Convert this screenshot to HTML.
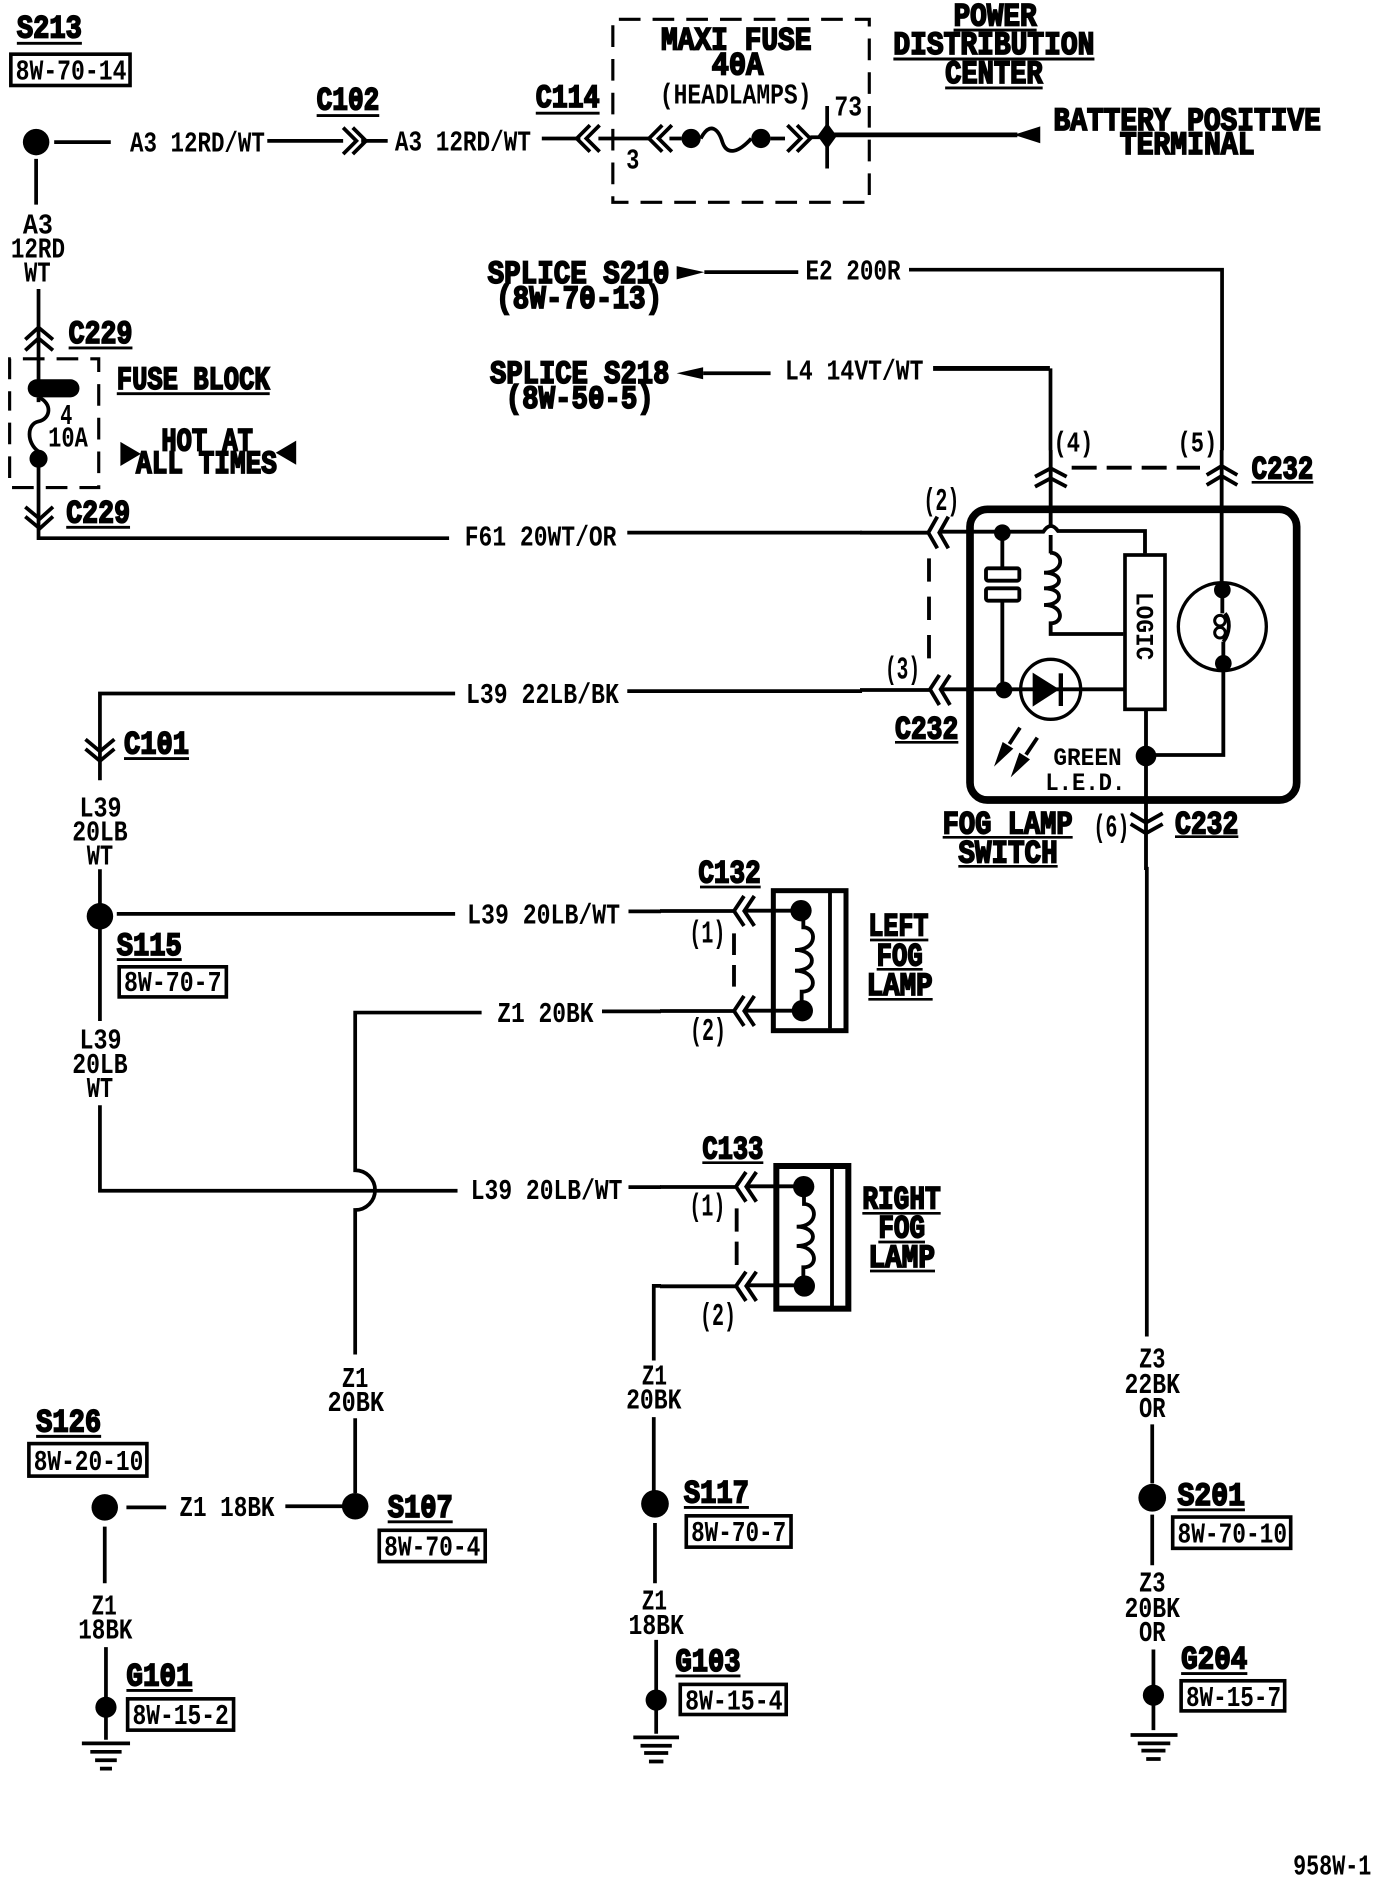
<!DOCTYPE html>
<html><head><meta charset="utf-8"><style>
html,body{margin:0;padding:0;background:#fff}
svg{display:block}
text{font-family:"Liberation Mono",monospace;font-weight:bold;fill:#000}
.l{font-size:24px}
.h{font-size:27px;stroke:#000;stroke-width:1.5}
.w{fill:none;stroke:#000;stroke-width:3.1}
.t{fill:none;stroke:#000;stroke-width:4}
.d{fill:none;stroke:#000;stroke-width:2.6;stroke-dasharray:18 10}
.u{stroke:#000;stroke-width:2.4;fill:none}
.b{fill:none;stroke:#000;stroke-width:3}
.z text{font-size:76px}
.z .p{font-size:94px}
.z .h{font-size:97px;stroke-width:5.4}
.zw{fill:none;stroke:#000;stroke-width:11.5}
</style></head><body>
<svg width="1376" height="1888" viewBox="0 0 1376 1888" xmlns="http://www.w3.org/2000/svg">
<rect width="1376" height="1888" fill="#fff"/>
<g transform="scale(1.204)">
<!-- top row -->
<text class="h" x="14" y="31" textLength="54" lengthAdjust="spacingAndGlyphs">S213</text><path class="u" d="M14 36H68"/>
<rect class="b" x="9" y="45" width="99" height="26"/><text class="l" x="13" y="66" textLength="92" lengthAdjust="spacingAndGlyphs">8W-70-14</text>
<circle cx="30" cy="118" r="11"/>
<path class="w" d="M45 118H92M222 117H285M300 117H322M450 115H482M497 115H540M556 115H566M640 115H652"/>
<path class="w" d="M285 106L296 117L285 128M293 106L304 117L293 128"/>
<text class="l" x="108" y="126" textLength="112" lengthAdjust="spacingAndGlyphs">A3 12RD/WT</text>
<text class="l" x="328" y="125" textLength="113" lengthAdjust="spacingAndGlyphs">A3 12RD/WT</text>
<text class="h" x="263" y="91" textLength="52" lengthAdjust="spacingAndGlyphs">C102</text><path class="u" d="M263 96H315"/>
<text class="h" x="445" y="89" textLength="53" lengthAdjust="spacingAndGlyphs">C114</text><path class="u" d="M445 94H498"/>
<path class="w" d="M490 104L479 115L490 126M498 104L487 115L498 126M550 104L539 115L550 126M558 104L547 115L558 126M654 104L665 115L654 126M662 104L673 115L662 126"/>
<path class="d" d="M509 95V16H722V168H509V105" stroke-dasharray="20 12"/>
<text class="h" x="549" y="41" textLength="125" lengthAdjust="spacingAndGlyphs">MAXI FUSE</text>
<text class="h" x="591" y="62" textLength="43" lengthAdjust="spacingAndGlyphs">40A</text>
<text class="l" x="548" y="86" textLength="126" lengthAdjust="spacingAndGlyphs">(HEADLAMPS)</text>
<text class="l" x="520" y="140" textLength="11" lengthAdjust="spacingAndGlyphs">3</text>
<text class="l" x="693" y="96" textLength="23" lengthAdjust="spacingAndGlyphs">73</text>
<circle cx="574" cy="115" r="8"/><circle cx="632" cy="115" r="8"/>
<path class="w" d="M582 115C590 100 597 108 600 118C604 130 614 126 624 115"/>
<path class="w" d="M673 114H687M687 88V140"/><path d="M687 102L695 113L687 124L679 113Z"/>
<path class="t" d="M687 112H845"/><path d="M842 112L864 105V119Z"/>
<text class="h" x="792" y="21" textLength="69" lengthAdjust="spacingAndGlyphs">POWER</text><path class="u" d="M792 25H861"/>
<text class="h" x="742" y="45" textLength="167" lengthAdjust="spacingAndGlyphs">DISTRIBUTION</text><path class="u" d="M742 49H909"/>
<text class="h" x="785" y="69" textLength="81" lengthAdjust="spacingAndGlyphs">CENTER</text><path class="u" d="M785 73H866"/>
<text class="h" x="875" y="108" textLength="222" lengthAdjust="spacingAndGlyphs">BATTERY POSITIVE</text>
<text class="h" x="930" y="128" textLength="112" lengthAdjust="spacingAndGlyphs">TERMINAL</text>
<!-- left col top -->
<path class="w" d="M30 132V170M32 240V320M32 330V334M32 385V447H373M521 442.4H716"/>
<text class="l" x="19" y="194" textLength="25" lengthAdjust="spacingAndGlyphs">A3</text>
<text class="l" x="9" y="214" textLength="45" lengthAdjust="spacingAndGlyphs">12RD</text>
<text class="l" x="20" y="234" textLength="22" lengthAdjust="spacingAndGlyphs">WT</text>
<path class="w" d="M21 282L32 272L44 282M21 291L32 281L44 291M21 421L33 431L44 421M21 429L33 439L44 429"/>
<text class="h" x="57" y="285" textLength="53" lengthAdjust="spacingAndGlyphs">C229</text><path class="u" d="M57 289H110"/>
<text class="h" x="55" y="434" textLength="53" lengthAdjust="spacingAndGlyphs">C229</text><path class="u" d="M55 438H108"/>
<path class="d" d="M8 315V298H82V405H8V325" stroke-dasharray="16 9"/>
<rect x="23" y="315" width="43" height="15" rx="7.5"/>
<path class="w" d="M32 330C44 335 42 348 32 350C22 352 22 368 32 375"/><circle cx="32" cy="381" r="7.5"/>
<text class="l" x="50" y="352" textLength="10" lengthAdjust="spacingAndGlyphs">4</text>
<text class="l" x="40" y="371" textLength="33" lengthAdjust="spacingAndGlyphs">10A</text>
<text class="h" x="97" y="323" textLength="127" lengthAdjust="spacingAndGlyphs">FUSE BLOCK</text><path class="u" d="M97 327H224"/>
<path d="M100 367L117 377L100 387ZM246 366V386L229 376Z"/>
<text class="h" x="134" y="374" textLength="76" lengthAdjust="spacingAndGlyphs">HOT AT</text>
<text class="h" x="113" y="393" textLength="117" lengthAdjust="spacingAndGlyphs">ALL TIMES</text>
<text class="l" x="386" y="453" textLength="126" lengthAdjust="spacingAndGlyphs">F61 20WT/OR</text>
<!-- splices -->
<text class="h" x="405" y="235" textLength="151" lengthAdjust="spacingAndGlyphs">SPLICE S210</text>
<text class="h" x="412" y="256" textLength="138" lengthAdjust="spacingAndGlyphs">(8W-70-13)</text>
<path d="M562 221L585 226L562 232Z"/><path class="w" d="M585 226H663M755 224H1015V374"/>
<text class="l" x="669" y="232" textLength="79" lengthAdjust="spacingAndGlyphs">E2 200R</text>
<text class="h" x="407" y="318" textLength="149" lengthAdjust="spacingAndGlyphs">SPLICE S218</text>
<text class="h" x="420" y="339" textLength="123" lengthAdjust="spacingAndGlyphs">(8W-50-5)</text>
<path d="M562 310L584 305V315Z"/><path class="w" d="M584 310H640"/><path class="t" d="M775 306H872"/><path class="w" d="M872.5 306V374"/>
<text class="l" x="652" y="315" textLength="115" lengthAdjust="spacingAndGlyphs">L4 14VT/WT</text>
<text class="l" x="875" y="375" textLength="33" lengthAdjust="spacingAndGlyphs">(4)</text>
<text class="l" x="978" y="375" textLength="33" lengthAdjust="spacingAndGlyphs">(5)</text>
<!-- left wiring -->
<path class="w" d="M83 648V576H378M521 574H716"/>
<text class="l" x="387" y="584" textLength="127" lengthAdjust="spacingAndGlyphs">L39 22LB/BK</text>
<path class="w" d="M71 614L83 624L95 614M71 622L83 632L95 622"/>
<text class="h" x="103" y="626" textLength="54" lengthAdjust="spacingAndGlyphs">C101</text><path class="u" d="M103 630H157"/>
<text class="l" x="66" y="678" textLength="35" lengthAdjust="spacingAndGlyphs">L39</text>
<text class="l" x="60" y="698" textLength="46" lengthAdjust="spacingAndGlyphs">20LB</text>
<text class="l" x="72" y="718" textLength="22" lengthAdjust="spacingAndGlyphs">WT</text>
<path class="w" d="M83 722V848M97 759H378M522 757H549"/><circle cx="83" cy="761" r="11"/>
<text class="l" x="388" y="767" textLength="127" lengthAdjust="spacingAndGlyphs">L39 20LB/WT</text>
<text class="h" x="97" y="793" textLength="54" lengthAdjust="spacingAndGlyphs">S115</text><path class="u" d="M97 797H151"/>
<rect class="b" x="99" y="803" width="89" height="25"/><text class="l" x="103" y="823" textLength="81" lengthAdjust="spacingAndGlyphs">8W-70-7</text>
<text class="l" x="66" y="871" textLength="35" lengthAdjust="spacingAndGlyphs">L39</text>
<text class="l" x="60" y="891" textLength="46" lengthAdjust="spacingAndGlyphs">20LB</text>
<text class="l" x="72" y="911" textLength="22" lengthAdjust="spacingAndGlyphs">WT</text>
<path class="w" d="M83 918V989H380M522 986H549M295 1125V1005A16 16 0 0 0 295 972V841H400M500 840H549"/>
<text class="l" x="413" y="849" textLength="80" lengthAdjust="spacingAndGlyphs">Z1 20BK</text>
<text class="l" x="391" y="996" textLength="126" lengthAdjust="spacingAndGlyphs">L39 20LB/WT</text>
<text class="l" x="284" y="1152" textLength="22" lengthAdjust="spacingAndGlyphs">Z1</text>
<text class="l" x="272" y="1172" textLength="47" lengthAdjust="spacingAndGlyphs">20BK</text>
<path class="w" d="M295 1178V1240M237 1251H285M105 1252H138M87 1268V1315M88 1368V1445"/>
<circle cx="295" cy="1251" r="11"/><circle cx="87" cy="1252" r="11"/>
<text class="l" x="149" y="1259" textLength="79" lengthAdjust="spacingAndGlyphs">Z1 18BK</text>
<text class="h" x="30" y="1189" textLength="54" lengthAdjust="spacingAndGlyphs">S126</text><path class="u" d="M30 1193H84"/>
<rect class="b" x="24" y="1199" width="98" height="27"/><text class="l" x="28" y="1221" textLength="91" lengthAdjust="spacingAndGlyphs">8W-20-10</text>
<text class="h" x="322" y="1260" textLength="54" lengthAdjust="spacingAndGlyphs">S107</text><path class="u" d="M322 1264H376"/>
<rect class="b" x="315" y="1271" width="88" height="26"/><text class="l" x="319" y="1292" textLength="80" lengthAdjust="spacingAndGlyphs">8W-70-4</text>
<text class="l" x="76" y="1341" textLength="21" lengthAdjust="spacingAndGlyphs">Z1</text>
<text class="l" x="65" y="1361" textLength="45" lengthAdjust="spacingAndGlyphs">18BK</text>
<circle cx="88" cy="1418" r="8.8"/>
<path class="w" d="M68 1448H108M75 1455H101M79 1462H97M83 1469H93"/>
<text class="h" x="105" y="1400" textLength="55" lengthAdjust="spacingAndGlyphs">G101</text><path class="u" d="M105 1404H160"/>
<rect class="b" x="106" y="1411" width="88" height="26"/><text class="l" x="110" y="1432" textLength="80" lengthAdjust="spacingAndGlyphs">8W-15-2</text>
<!-- middle -->
<path class="w" d="M549 1068H543V1130M543 1177V1238M544 1265V1315M545 1362V1440"/>
<text class="l" x="533" y="1150" textLength="21" lengthAdjust="spacingAndGlyphs">Z1</text>
<text class="l" x="520" y="1170" textLength="46" lengthAdjust="spacingAndGlyphs">20BK</text>
<circle cx="544" cy="1249" r="11.5"/>
<text class="h" x="568" y="1248" textLength="54" lengthAdjust="spacingAndGlyphs">S117</text><path class="u" d="M568 1252H622"/>
<rect class="b" x="570" y="1259" width="87" height="26"/><text class="l" x="574" y="1280" textLength="79" lengthAdjust="spacingAndGlyphs">8W-70-7</text>
<text class="l" x="533" y="1337" textLength="21" lengthAdjust="spacingAndGlyphs">Z1</text>
<text class="l" x="522" y="1357" textLength="46" lengthAdjust="spacingAndGlyphs">18BK</text>
<circle cx="545" cy="1412" r="8.8"/>
<path class="w" d="M526 1443H564M532 1450H558M535 1456H555M539 1463H551"/>
<text class="h" x="561" y="1388" textLength="54" lengthAdjust="spacingAndGlyphs">G103</text><path class="u" d="M561 1392H615"/>
<rect class="b" x="565" y="1399" width="88" height="25"/><text class="l" x="569" y="1420" textLength="81" lengthAdjust="spacingAndGlyphs">8W-15-4</text>
<!-- right -->
<path class="w" d="M952.5 720V1110M957 1183V1232M957 1258V1300M958 1370V1437"/>
<text class="l" x="946" y="1136" textLength="22" lengthAdjust="spacingAndGlyphs">Z3</text>
<text class="l" x="934" y="1157" textLength="46" lengthAdjust="spacingAndGlyphs">22BK</text>
<text class="l" x="946" y="1177" textLength="22" lengthAdjust="spacingAndGlyphs">OR</text>
<circle cx="957" cy="1244" r="11.5"/>
<text class="h" x="978" y="1250" textLength="56" lengthAdjust="spacingAndGlyphs">S201</text><path class="u" d="M978 1254H1034"/>
<rect class="b" x="974" y="1260" width="98" height="26"/><text class="l" x="978" y="1281" textLength="91" lengthAdjust="spacingAndGlyphs">8W-70-10</text>
<text class="l" x="946" y="1322" textLength="22" lengthAdjust="spacingAndGlyphs">Z3</text>
<text class="l" x="934" y="1343" textLength="46" lengthAdjust="spacingAndGlyphs">20BK</text>
<text class="l" x="946" y="1363" textLength="22" lengthAdjust="spacingAndGlyphs">OR</text>
<circle cx="958" cy="1408" r="8.8"/>
<path class="w" d="M939 1441H978M945 1448H972M948 1454H968M952 1461H964"/>
<text class="h" x="981" y="1386" textLength="55" lengthAdjust="spacingAndGlyphs">G204</text><path class="u" d="M981 1390H1036"/>
<rect class="b" x="981" y="1396" width="86" height="25"/><text class="l" x="985" y="1417" textLength="79" lengthAdjust="spacingAndGlyphs">8W-15-7</text>
<text class="l" x="1074" y="1557" textLength="65" lengthAdjust="spacingAndGlyphs">958W-1</text>
</g>
<!-- switch detail -->
<g class="z" transform="translate(860 450) scale(.33333)">
<rect x="330" y="178" width="980" height="872" rx="52" fill="none" stroke="#000" stroke-width="23"/>
<path class="zw" d="M0 248H205M240 245H550Q572 212 594 243H855V310"/>
<path class="zw" d="M232 200L205 248L232 295M265 200L238 248L265 295"/>
<path class="zw" d="M207 325V645" stroke-dasharray="70 45"/>
<path class="zw" d="M572 0V232M572 255V310M1085 0V400"/>
<path class="zw" d="M525 80L572 55L620 80M525 110L572 85L620 110M1040 75L1085 48L1132 75M1040 105L1085 78L1132 105"/>
<path class="zw" d="M635 53H1020" stroke-dasharray="75 30"/>
<circle cx="427" cy="248" r="25"/>
<path class="zw" d="M427 270V350M427 452V700"/>
<rect class="zw" x="378" y="355" width="100" height="37" rx="6"/>
<rect class="zw" x="378" y="415" width="100" height="37" rx="6"/>
<path class="zw" d="M0 720H210M240 718H795"/>
<path class="zw" d="M238 675L210 718L238 765M270 675L242 718L270 765"/>
<circle cx="432" cy="720" r="25"/>
<circle cx="572" cy="718" r="90" fill="none" stroke="#000" stroke-width="10"/>
<path d="M518 668L598 718L518 770Z"/><rect x="596" y="670" width="13" height="98"/>
<path class="zw" d="M570 308C612 308 615 368 552 368C612 368 612 415 552 415C612 415 612 465 552 465C612 465 612 520 572 520V552H790"/>
<rect x="795" y="315" width="120" height="463" fill="#fff" stroke="#000" stroke-width="11"/>
<text transform="translate(830 426) rotate(90)" x="0" y="0" textLength="205" lengthAdjust="spacingAndGlyphs">LOGIC</text>
<circle cx="1087" cy="530" r="132" fill="none" stroke="#000" stroke-width="10"/>
<circle cx="1087" cy="420" r="25"/><circle cx="1090" cy="640" r="25"/>
<path class="zw" d="M1087 440V490M1090 575V620"/>
<circle cx="1080" cy="512" r="16" fill="none" stroke="#000" stroke-width="9"/><circle cx="1080" cy="548" r="16" fill="none" stroke="#000" stroke-width="9"/>
<path class="zw" d="M1095 490C1112 510 1110 550 1090 575"/>
<path class="zw" d="M1090 650V915H870"/><circle cx="858" cy="918" r="31"/>
<path class="zw" d="M858 778V1260"/>
<path class="zw" d="M812 1090L858 1118L908 1090M812 1122L858 1150L908 1122"/>
<path class="zw" d="M480 833L448 882M532 863L498 914"/>
<path d="M402 950L428 876L460 896ZM452 982L478 908L510 928Z"/>
<text x="580" y="945" textLength="205" lengthAdjust="spacingAndGlyphs">GREEN</text>
<text x="556" y="1020" textLength="240" lengthAdjust="spacingAndGlyphs">L.E.D.</text>
<text class="p" x="190" y="180" textLength="108" lengthAdjust="spacingAndGlyphs">(2)</text>
<text class="p" x="75" y="685" textLength="105" lengthAdjust="spacingAndGlyphs">(3)</text>
<text class="p" x="700" y="1160" textLength="108" lengthAdjust="spacingAndGlyphs">(6)</text>
<text class="h" x="105" y="865" textLength="190" lengthAdjust="spacingAndGlyphs">C232</text><path class="u" style="stroke-width:8" d="M105 877H295"/>
<text class="h" x="1175" y="85" textLength="185" lengthAdjust="spacingAndGlyphs">C232</text><path class="u" style="stroke-width:8" d="M1175 97H1360"/>
<text class="h" x="248" y="1150" textLength="390" lengthAdjust="spacingAndGlyphs">FOG LAMP</text><path class="u" style="stroke-width:8" d="M248 1162H638"/>
<text class="h" x="295" y="1238" textLength="298" lengthAdjust="spacingAndGlyphs">SWITCH</text><path class="u" style="stroke-width:8" d="M295 1249H593"/>
<text class="h" x="945" y="1150" textLength="190" lengthAdjust="spacingAndGlyphs">C232</text><path class="u" style="stroke-width:8" d="M945 1160H1135"/>
</g>
<!-- lamps -->
<g class="z" transform="translate(660 840) scale(.33333)">
<text class="h" x="115" y="128" textLength="187" lengthAdjust="spacingAndGlyphs">C132</text><path class="u" style="stroke-width:8" d="M120 141H302"/>
<rect x="340" y="152" width="218" height="420" fill="none" stroke="#000" stroke-width="15"/>
<path class="zw" d="M510 152V565M0 213H220M255 212H400M0 513H220M255 512H400"/>
<path class="zw" d="M252 168L222 213L252 258M283 168L253 213L283 258M252 468L222 513L252 558M283 468L253 513L283 558"/>
<circle cx="423" cy="212" r="32"/><circle cx="427" cy="512" r="32"/>
<path class="zw" d="M430 240V262C470 262 475 330 405 330C470 330 475 392 405 392C470 392 475 455 425 455V485"/>
<path class="zw" d="M222 280V445" stroke-dasharray="65 30"/>
<text class="p" x="88" y="308" textLength="108" lengthAdjust="spacingAndGlyphs">(1)</text>
<text class="p" x="90" y="600" textLength="108" lengthAdjust="spacingAndGlyphs">(2)</text>
<text class="h" x="625" y="286" textLength="180" lengthAdjust="spacingAndGlyphs">LEFT</text><path class="u" style="stroke-width:8" d="M630 300H805"/>
<text class="h" x="650" y="376" textLength="138" lengthAdjust="spacingAndGlyphs">FOG</text><path class="u" style="stroke-width:8" d="M650 388H788"/>
<text class="h" x="620" y="465" textLength="198" lengthAdjust="spacingAndGlyphs">LAMP</text><path class="u" style="stroke-width:8" d="M625 478H818"/>
<text class="h" x="127" y="956" textLength="183" lengthAdjust="spacingAndGlyphs">C133</text><path class="u" style="stroke-width:8" d="M127 968H310"/>
<rect x="349" y="978" width="216" height="428" fill="none" stroke="#000" stroke-width="18"/>
<path class="zw" d="M516 978V1400M0 1041H225M260 1039H405M0 1339H225M260 1336H405"/>
<path class="zw" d="M258 996L228 1040L258 1085M289 996L259 1040L289 1085M258 1295L228 1338L258 1383M289 1295L259 1338L289 1383"/>
<circle cx="431" cy="1040" r="32"/><circle cx="433" cy="1338" r="32"/>
<path class="zw" d="M432 1068V1092C472 1092 478 1160 410 1160C472 1160 478 1218 410 1218C472 1218 478 1282 430 1282V1312"/>
<path class="zw" d="M230 1105V1275" stroke-dasharray="70 30"/>
<text class="p" x="88" y="1126" textLength="108" lengthAdjust="spacingAndGlyphs">(1)</text>
<text class="p" x="120" y="1455" textLength="108" lengthAdjust="spacingAndGlyphs">(2)</text>
<text class="h" x="607" y="1106" textLength="235" lengthAdjust="spacingAndGlyphs">RIGHT</text><path class="u" style="stroke-width:8" d="M607 1120H842"/>
<text class="h" x="655" y="1193" textLength="140" lengthAdjust="spacingAndGlyphs">FOG</text><path class="u" style="stroke-width:8" d="M655 1206H795"/>
<text class="h" x="625" y="1281" textLength="200" lengthAdjust="spacingAndGlyphs">LAMP</text><path class="u" style="stroke-width:8" d="M630 1293H825"/>
</g>
</svg>
</body></html>
